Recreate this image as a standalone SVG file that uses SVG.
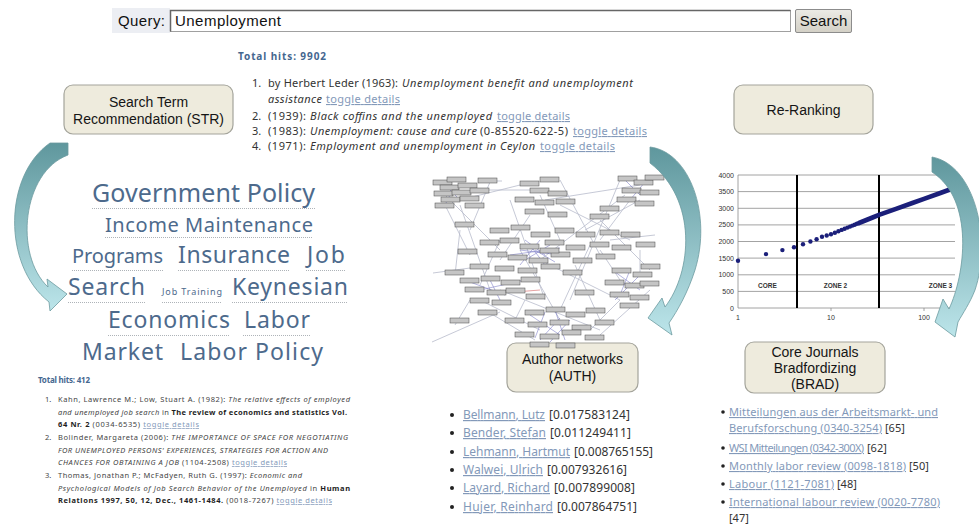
<svg xmlns="http://www.w3.org/2000/svg" width="979" height="525" viewBox="0 0 979 525">
<style>
  .box { fill:#eeebdd; stroke:#a4a49b; stroke-width:1.2 }
  .blabel { font-family:"Liberation Sans",Arial,sans-serif; font-size:14px; fill:#151515; text-anchor:middle }
  .ui { font-family:"Liberation Sans",Arial,sans-serif; font-size:15px; fill:#111 }
  .res { font-family:"Noto Sans","DejaVu Sans",sans-serif; font-size:11px; fill:#333 }
  .sm { font-family:"Noto Sans","DejaVu Sans",sans-serif; font-size:7.5px; fill:#444 }
  .it { font-style:italic }
  .b { font-weight:bold; fill:#1e1e1e }
  .lnk { fill:#8399b9; text-decoration:underline }
  .num { fill:#333 }
  .hits { font-family:"Noto Sans","DejaVu Sans",sans-serif; font-weight:bold; fill:#45678f }
  .tag { font-family:"Noto Sans","DejaVu Sans",sans-serif; fill:#4d6a8c }
  .dots { stroke:#aeb3b8; stroke-width:1; stroke-dasharray:1 1; fill:none }
  .list { font-family:"Noto Sans","DejaVu Sans",sans-serif; font-size:12px }
  .ax { font-family:"Liberation Sans",Arial,sans-serif; font-size:7px; fill:#333 }
  .zl { font-family:"Liberation Sans",Arial,sans-serif; font-size:6.5px; font-weight:bold; fill:#333; text-anchor:middle }
  .grid { stroke:#8c8c8c; stroke-width:0.8 }
  .zone { stroke:#000; stroke-width:2 }
  .pt { fill:#1b1f7a }
  .arrow { fill:url(#arrowFill); stroke:#6c9ba0; stroke-width:0.8 }
  .nd { fill:#c5c5c5; stroke:#4a4a4a; stroke-width:0.5 }
  .eg { stroke:#b7bbcb; stroke-width:0.8 }
  .eb { stroke:#5a5ab8; stroke-width:0.6; opacity:0.75 }
</style>
<defs>
  <linearGradient id="arrowFill" x1="0" y1="0" x2="0" y2="1">
    <stop offset="0" stop-color="#5f979d"/>
    <stop offset="1" stop-color="#bce5ea"/>
  </linearGradient>
  <linearGradient id="btnFill" x1="0" y1="0" x2="0" y2="1">
    <stop offset="0" stop-color="#ecebe6"/>
    <stop offset="1" stop-color="#d3d0c6"/>
  </linearGradient>
  <rect id="nd" class="nd" width="19" height="5"/>
</defs>
<rect width="979" height="525" fill="#fff"/>

<!-- search form -->
<g id="query-bar">
  <rect x="112" y="8" width="58" height="25" fill="#eceef3"/>
  <text class="ui" x="118" y="26" textLength="47">Query:</text>
  <rect x="170.5" y="10.5" width="620" height="21" fill="#fff" stroke="#a0a0a0"/>
  <path d="M170.5,31.5 V10.5 H790.5" stroke="#666" stroke-width="1.5" fill="none"/>
  <text class="ui" x="175" y="26" textLength="106">Unemployment</text>
  <rect x="795.5" y="9.5" width="56" height="23" rx="1.5" fill="url(#btnFill)" stroke="#8c8c8c"/>
  <text class="ui" x="823.5" y="26" text-anchor="middle">Search</text>
</g>

<!-- result list for the plain query -->
<g id="results-query">
  <text class="hits" x="238" y="60" font-size="10" textLength="88">Total hits: 9902</text>
  <text class="res"><tspan x="252" y="87">1.</tspan><tspan x="268" textLength="130">by Herbert Leder (1963):</tspan><tspan class="it" x="402" textLength="231">Unemployment benefit and unemployment</tspan></text>
  <text class="res"><tspan class="it" x="268" y="103" textLength="54">assistance</tspan><tspan class="lnk" x="326" textLength="74">toggle details</tspan></text>
  <text class="res"><tspan x="252" y="120">2.</tspan><tspan x="268" textLength="38">(1939):</tspan><tspan class="it" x="310" textLength="182">Black coffins and the unemployed</tspan><tspan class="lnk" x="497" textLength="73">toggle details</tspan></text>
  <text class="res"><tspan x="252" y="135">3.</tspan><tspan x="268" textLength="38">(1983):</tspan><tspan class="it" x="310" textLength="167">Unemployment: cause and cure</tspan><tspan x="480" textLength="88">(0-85520-622-5)</tspan><tspan class="lnk" x="573" textLength="74">toggle details</tspan></text>
  <text class="res"><tspan x="252" y="150">4.</tspan><tspan x="268" textLength="38">(1971):</tspan><tspan class="it" x="310" textLength="225">Employment and unemployment in Ceylon</tspan><tspan class="lnk" x="540" textLength="75">toggle details</tspan></text>
</g>

<!-- service boxes -->
<g id="str">
  <rect class="box" x="64" y="85" width="169" height="49" rx="9"/>
  <text class="blabel" x="148.5" y="107">Search Term</text>
  <text class="blabel" x="148.5" y="124">Recommendation (STR)</text>
</g>
<g id="rerank">
  <rect class="box" x="734" y="85" width="139" height="49" rx="9"/>
  <text class="blabel" x="803.5" y="115">Re-Ranking</text>
</g>
<g id="auth">
  <rect class="box" x="507" y="343" width="131" height="49" rx="9"/>
  <text class="blabel" x="572.5" y="364">Author networks</text>
  <text class="blabel" x="572.5" y="381">(AUTH)</text>
</g>
<g id="brad">
  <rect class="box" x="745" y="342" width="140" height="51" rx="9"/>
  <text class="blabel" x="815" y="357">Core Journals</text>
  <text class="blabel" x="815" y="373">Bradfordizing</text>
  <text class="blabel" x="815" y="389">(BRAD)</text>
</g>

<!-- recommended terms -->
<g id="tag-cloud">
  <text class="tag" x="92" y="202" font-size="25" textLength="223">Government Policy</text>
  <text class="tag" x="105" y="232" font-size="20" textLength="208">Income Maintenance</text>
  <text class="tag" x="72" y="263" font-size="20" textLength="91">Programs</text>
  <text class="tag" x="178" y="263" font-size="23" textLength="112">Insurance</text>
  <text class="tag" x="307" y="263" font-size="23" textLength="38">Job</text>
  <text class="tag" x="68" y="295" font-size="23" textLength="77">Search</text>
  <text class="tag" x="162" y="295" font-size="9" textLength="60">Job Training</text>
  <text class="tag" x="232" y="295" font-size="23" textLength="116">Keynesian</text>
  <text class="tag" x="108" y="328" font-size="23" textLength="122">Economics</text>
  <text class="tag" x="244" y="328" font-size="23" textLength="66">Labor</text>
  <text class="tag" x="82" y="360" font-size="23" textLength="81">Market</text>
  <text class="tag" x="180" y="360" font-size="23" textLength="143">Labor Policy</text>
  <path class="dots" d="M92,208.5H315 M105,237.5H313 M72,270.5H163 M178,270.5H290 M306,270.5H345 M68,302.5H145 M162,302.5H222 M232,302.5H348 M108,335.5H230 M243,335.5H310"/>
</g>

<!-- result list after term expansion -->
<g id="results-str">
  <text class="hits" x="38" y="383" font-size="8" textLength="52">Total hits: 412</text>
  <text class="sm" x="45" y="402">1.</text>
  <text class="sm" x="45" y="440">2.</text>
  <text class="sm" x="45" y="478">3.</text>
  <text class="sm" x="58" y="402" textLength="292">Kahn, Lawrence M.; Low, Stuart A. (1982): <tspan class="it">The relative effects of employed</tspan></text>
  <text class="sm" x="58" y="414.5" textLength="289"><tspan class="it">and unemployed job search</tspan> in <tspan class="b">The review of economics and statistics Vol.</tspan></text>
  <text class="sm" x="58" y="427" textLength="141"><tspan class="b">64 Nr. 2</tspan> (0034-6535) <tspan class="lnk">toggle details</tspan></text>
  <text class="sm" x="58" y="440" textLength="290">Bolinder, Margareta (2006): <tspan class="it">THE IMPORTANCE OF SPACE FOR NEGOTIATING</tspan></text>
  <text class="sm it" x="58" y="452.5" textLength="270">FOR UNEMPLOYED PERSONS' EXPERIENCES, STRATEGIES FOR ACTION AND</text>
  <text class="sm" x="58" y="465" textLength="229"><tspan class="it">CHANCES FOR OBTAINING A JOB</tspan> (1104-2508) <tspan class="lnk">toggle details</tspan></text>
  <text class="sm" x="58" y="478" textLength="244">Thomas, Jonathan P.; McFadyen, Ruth G. (1997): <tspan class="it">Economic and</tspan></text>
  <text class="sm" x="58" y="490.5" textLength="292"><tspan class="it">Psychological Models of Job Search Behavior of the Unemployed</tspan> in <tspan class="b">Human</tspan></text>
  <text class="sm" x="58" y="503" textLength="274"><tspan class="b">Relations 1997, 50, 12, Dec., 1461-1484.</tspan> (0018-7267) <tspan class="lnk">toggle details</tspan></text>
</g>

<!-- co-authorship graph -->
<g id="auth-graph">
  <g class="eg">
    <line x1="445" y1="195" x2="500" y2="250"/>
    <line x1="460" y1="205" x2="490" y2="290"/>
    <line x1="470" y1="190" x2="530" y2="190"/>
    <line x1="478" y1="181" x2="502" y2="181"/>
    <line x1="490" y1="182" x2="470" y2="230"/>
    <line x1="540" y1="195" x2="560" y2="240"/>
    <line x1="545" y1="200" x2="640" y2="185"/>
    <line x1="560" y1="205" x2="630" y2="240"/>
    <line x1="630" y1="200" x2="600" y2="240"/>
    <line x1="625" y1="195" x2="540" y2="260"/>
    <line x1="500" y1="240" x2="480" y2="285"/>
    <line x1="520" y1="250" x2="560" y2="320"/>
    <line x1="540" y1="260" x2="620" y2="300"/>
    <line x1="600" y1="250" x2="620" y2="280"/>
    <line x1="640" y1="250" x2="640" y2="275"/>
    <line x1="590" y1="245" x2="560" y2="310"/>
    <line x1="480" y1="300" x2="540" y2="330"/>
    <line x1="500" y1="290" x2="600" y2="330"/>
    <line x1="433" y1="273" x2="470" y2="268"/>
    <line x1="432" y1="342" x2="500" y2="312"/>
    <line x1="620" y1="300" x2="590" y2="330"/>
    <line x1="650" y1="290" x2="600" y2="335"/>
    <line x1="460" y1="200" x2="520" y2="185"/>
    <line x1="460" y1="230" x2="455" y2="275"/>
    <line x1="525" y1="300" x2="515" y2="320"/>
    <line x1="570" y1="300" x2="620" y2="180"/>
    <line x1="610" y1="240" x2="655" y2="235"/>
    <line x1="510" y1="200" x2="545" y2="300"/>
    <line x1="585" y1="230" x2="640" y2="200"/>
    <line x1="485" y1="310" x2="535" y2="340"/>
    <line x1="445" y1="205" x2="470" y2="255"/>
    <line x1="560" y1="180" x2="600" y2="255"/>
    <line x1="530" y1="215" x2="500" y2="260"/>
    <line x1="600" y1="220" x2="650" y2="270"/>
    <line x1="575" y1="265" x2="600" y2="320"/>
    <line x1="470" y1="300" x2="455" y2="325"/>
  </g>
  <g class="eb">
    <line x1="520" y1="250" x2="560" y2="255"/>
    <line x1="530" y1="245" x2="545" y2="265"/>
    <line x1="540" y1="240" x2="520" y2="265"/>
    <line x1="510" y1="255" x2="560" y2="248"/>
    <line x1="525" y1="260" x2="550" y2="245"/>
    <line x1="535" y1="250" x2="555" y2="262"/>
    <line x1="545" y1="255" x2="525" y2="240"/>
    <line x1="530" y1="315" x2="560" y2="335"/>
    <line x1="545" y1="312" x2="535" y2="338"/>
    <line x1="560" y1="318" x2="540" y2="340"/>
    <line x1="555" y1="310" x2="565" y2="340"/>
    <line x1="570" y1="320" x2="550" y2="342"/>
    <line x1="615" y1="272" x2="640" y2="290"/>
    <line x1="630" y1="270" x2="620" y2="295"/>
    <line x1="640" y1="275" x2="615" y2="300"/>
    <line x1="450" y1="190" x2="460" y2="200"/>
    <line x1="455" y1="185" x2="445" y2="205"/>
    <line x1="470" y1="282" x2="505" y2="295"/>
    <line x1="480" y1="290" x2="525" y2="280"/>
    <line x1="490" y1="280" x2="500" y2="300"/>
    <line x1="625" y1="180" x2="640" y2="195"/>
    <line x1="645" y1="182" x2="630" y2="200"/>
  </g>
  <line x1="515" y1="292" x2="540" y2="290" stroke="#e08a8a" stroke-width="0.8"/>
  <g>
    <use href="#nd" x="433" y="180"/><use href="#nd" x="447" y="177"/><use href="#nd" x="440" y="185"/>
    <use href="#nd" x="458" y="183"/><use href="#nd" x="434" y="191"/><use href="#nd" x="452" y="190"/>
    <use href="#nd" x="441" y="197"/><use href="#nd" x="460" y="196"/><use href="#nd" x="435" y="203"/>
    <use href="#nd" x="470" y="188"/><use href="#nd" x="465" y="203"/><use href="#nd" x="478" y="178"/>
    <use href="#nd" x="520" y="181"/><use href="#nd" x="540" y="177"/><use href="#nd" x="530" y="188"/>
    <use href="#nd" x="548" y="191"/><use href="#nd" x="515" y="197"/><use href="#nd" x="535" y="200"/>
    <use href="#nd" x="556" y="199"/><use href="#nd" x="525" y="209"/><use href="#nd" x="548" y="212"/>
    <use href="#nd" x="618" y="176"/><use href="#nd" x="634" y="180"/><use href="#nd" x="645" y="175"/>
    <use href="#nd" x="622" y="188"/><use href="#nd" x="640" y="190"/><use href="#nd" x="617" y="197"/>
    <use href="#nd" x="635" y="201"/><use href="#nd" x="600" y="206"/>
    <use href="#nd" x="490" y="228"/><use href="#nd" x="511" y="225"/><use href="#nd" x="531" y="232"/>
    <use href="#nd" x="555" y="228"/><use href="#nd" x="576" y="232"/><use href="#nd" x="600" y="230"/>
    <use href="#nd" x="621" y="232"/><use href="#nd" x="480" y="240"/><use href="#nd" x="500" y="238"/>
    <use href="#nd" x="520" y="244"/><use href="#nd" x="545" y="240"/><use href="#nd" x="566" y="245"/>
    <use href="#nd" x="590" y="242"/><use href="#nd" x="612" y="245"/><use href="#nd" x="636" y="242"/>
    <use href="#nd" x="488" y="252"/><use href="#nd" x="508" y="255"/><use href="#nd" x="529" y="258"/>
    <use href="#nd" x="551" y="252"/><use href="#nd" x="573" y="258"/><use href="#nd" x="596" y="254"/>
    <use href="#nd" x="470" y="264"/><use href="#nd" x="495" y="266"/><use href="#nd" x="518" y="268"/>
    <use href="#nd" x="541" y="264"/><use href="#nd" x="563" y="270"/><use href="#nd" x="458" y="249"/>
    <use href="#nd" x="455" y="222"/><use href="#nd" x="590" y="214"/><use href="#nd" x="540" y="248"/>
    <use href="#nd" x="460" y="278"/><use href="#nd" x="481" y="276"/><use href="#nd" x="501" y="280"/>
    <use href="#nd" x="521" y="277"/><use href="#nd" x="465" y="287"/><use href="#nd" x="487" y="290"/>
    <use href="#nd" x="506" y="288"/><use href="#nd" x="526" y="294"/><use href="#nd" x="470" y="298"/>
    <use href="#nd" x="492" y="300"/><use href="#nd" x="445" y="270"/><use href="#nd" x="478" y="310"/>
    <use href="#nd" x="612" y="268"/><use href="#nd" x="633" y="272"/><use href="#nd" x="641" y="264"/>
    <use href="#nd" x="605" y="280"/><use href="#nd" x="625" y="283"/><use href="#nd" x="640" y="281"/>
    <use href="#nd" x="610" y="292"/><use href="#nd" x="630" y="295"/><use href="#nd" x="620" y="303"/>
    <use href="#nd" x="525" y="310"/><use href="#nd" x="546" y="307"/><use href="#nd" x="566" y="312"/>
    <use href="#nd" x="586" y="308"/><use href="#nd" x="505" y="318"/><use href="#nd" x="528" y="322"/>
    <use href="#nd" x="550" y="320"/><use href="#nd" x="572" y="325"/><use href="#nd" x="595" y="320"/>
    <use href="#nd" x="515" y="332"/><use href="#nd" x="540" y="334"/><use href="#nd" x="562" y="330"/>
    <use href="#nd" x="585" y="335"/><use href="#nd" x="530" y="342"/><use href="#nd" x="556" y="343"/>
    <use href="#nd" x="575" y="290"/><use href="#nd" x="450" y="318"/>
  </g>
</g>

<!-- Bradford distribution chart -->
<g id="brad-chart">
  <g class="grid">
    <line x1="738" y1="175" x2="955" y2="175"/>
    <line x1="738" y1="191.6" x2="955" y2="191.6"/>
    <line x1="738" y1="208.3" x2="955" y2="208.3"/>
    <line x1="738" y1="224.9" x2="955" y2="224.9"/>
    <line x1="738" y1="241.5" x2="955" y2="241.5"/>
    <line x1="738" y1="258.1" x2="955" y2="258.1"/>
    <line x1="738" y1="274.8" x2="955" y2="274.8"/>
    <line x1="738" y1="291.4" x2="955" y2="291.4"/>
    <line x1="738" y1="308" x2="955" y2="308"/>
    <line x1="738" y1="175" x2="738" y2="308"/>
    <line x1="831" y1="308" x2="831" y2="311"/>
    <line x1="924" y1="308" x2="924" y2="311"/>
  </g>
  <line class="zone" x1="797" y1="175" x2="797" y2="308"/>
  <line class="zone" x1="879" y1="175" x2="879" y2="308"/>
  <g class="ax" text-anchor="end">
    <text x="734" y="177.5">4000</text>
    <text x="734" y="194">3500</text>
    <text x="734" y="210.8">3000</text>
    <text x="734" y="227.4">2500</text>
    <text x="734" y="244">2000</text>
    <text x="734" y="260.6">1500</text>
    <text x="734" y="277.3">1000</text>
    <text x="734" y="293.9">500</text>
    <text x="734" y="310.5">0</text>
  </g>
  <g class="ax" text-anchor="middle">
    <text x="738" y="320">1</text>
    <text x="831" y="320">10</text>
    <text x="924" y="320">100</text>
  </g>
  <text class="zl" x="767.5" y="288">CORE</text>
  <text class="zl" x="835.5" y="288">ZONE 2</text>
  <text class="zl" x="940.5" y="288">ZONE 3</text>
  <g class="pt">
    <circle cx="738" cy="260.8" r="2.2"/><circle cx="766" cy="254.1" r="2.2"/>
    <circle cx="782.4" cy="250.1" r="2.2"/><circle cx="794" cy="247.2" r="2.2"/>
    <circle cx="803" cy="244.2" r="2.2"/><circle cx="810.4" cy="241.5" r="2.2"/>
    <circle cx="816.6" cy="239.2" r="2.2"/><circle cx="822" cy="236.8" r="2.2"/>
    <circle cx="826.7" cy="235.5" r="2.2"/><circle cx="831" cy="234.2" r="2.2"/>
    <circle cx="834.9" cy="232.7" r="2.2"/><circle cx="838.4" cy="231.2" r="2.2"/>
    <circle cx="841.6" cy="229.9" r="2.2"/><circle cx="844.6" cy="228.7" r="2.2"/>
    <circle cx="847.4" cy="227.6" r="2.2"/><circle cx="850" cy="226.6" r="2.2"/>
    <circle cx="852.4" cy="225.6" r="2.2"/><circle cx="854.7" cy="224.7" r="2.2"/>
    <circle cx="856.9" cy="223.8" r="2.2"/>
  </g>
  <polyline points="859,223 866.4,220 872.6,217.5 879,214.9 896,208.8 912.4,203 924,198.8 940.4,193 954,188" fill="none" stroke="#1b1f7a" stroke-width="4.6" stroke-linecap="round" stroke-linejoin="round"/>
</g>

<!-- ranked authors -->
<g id="auth-list" class="list">
  <g fill="#222">
    <circle cx="452" cy="415" r="2"/><circle cx="452" cy="433" r="2"/><circle cx="452" cy="452" r="2"/>
    <circle cx="452" cy="470" r="2"/><circle cx="452" cy="488" r="2"/><circle cx="452" cy="507" r="2"/>
  </g>
  <text y="419"><tspan class="lnk" x="463" textLength="82">Bellmann, Lutz</tspan><tspan class="num" x="549" textLength="81">[0.017583124]</tspan></text>
  <text y="437"><tspan class="lnk" x="463" textLength="83">Bender, Stefan</tspan><tspan class="num" x="550" textLength="81">[0.011249411]</tspan></text>
  <text y="456"><tspan class="lnk" x="463" textLength="107">Lehmann, Hartmut</tspan><tspan class="num" x="574" textLength="79">[0.008765155]</tspan></text>
  <text y="474"><tspan class="lnk" x="463" textLength="80">Walwei, Ulrich</tspan><tspan class="num" x="547" textLength="80">[0.007932616]</tspan></text>
  <text y="492"><tspan class="lnk" x="463" textLength="87">Layard, Richard</tspan><tspan class="num" x="554" textLength="81">[0.007899008]</tspan></text>
  <text y="511"><tspan class="lnk" x="463" textLength="90">Hujer, Reinhard</tspan><tspan class="num" x="557" textLength="80">[0.007864751]</tspan></text>
</g>

<!-- ranked core journals -->
<g id="brad-list" class="list">
  <g fill="#222">
    <circle cx="723" cy="412" r="1.8"/><circle cx="723" cy="448" r="1.8"/><circle cx="723" cy="466" r="1.8"/>
    <circle cx="723" cy="484" r="1.8"/><circle cx="723" cy="502" r="1.8"/>
  </g>
  <text y="416" font-size="11"><tspan class="lnk" x="729" textLength="209">Mitteilungen aus der Arbeitsmarkt- und</tspan></text>
  <text y="432" font-size="11"><tspan class="lnk" x="729" textLength="153">Berufsforschung (0340-3254)</tspan><tspan class="num" x="885">[65]</tspan></text>
  <text y="452" font-size="11"><tspan class="lnk" x="729" textLength="135">WSI Mitteilungen (0342-300X)</tspan><tspan class="num" x="867">[62]</tspan></text>
  <text y="470" font-size="11"><tspan class="lnk" x="729" textLength="177">Monthly labor review (0098-1818)</tspan><tspan class="num" x="909">[50]</tspan></text>
  <text y="488" font-size="11"><tspan class="lnk" x="729" textLength="105">Labour (1121-7081)</tspan><tspan class="num" x="837">[48]</tspan></text>
  <text y="506" font-size="11"><tspan class="lnk" x="729" textLength="211">International labour review (0020-7780)</tspan></text>
  <text y="522" font-size="11"><tspan class="num" x="729">[47]</tspan></text>
</g>

<!-- curved arrows between the services -->
<g id="connectors">
  <path class="arrow" d="M50,143 L68,143 L68,155 C22,172 14,255 48,287 L47,279 L67,294 L50,311 L49,302 C2,265 4,175 50,143 Z"/>
  <path class="arrow" d="M650,147 C690,152 712,215 695,270 C688,292 678,310 669,323 L672,335 L648,318 L662,298 L665,307 C692,272 698,200 650,163 Z"/>
  <path class="arrow" d="M932,157 C975,165 992,240 975,290 C970,303 963,313 958,322 L955,337 L935,322 L943,299 L949,309 C965,275 975,200 932,172 Z"/>
</g>
</svg>
